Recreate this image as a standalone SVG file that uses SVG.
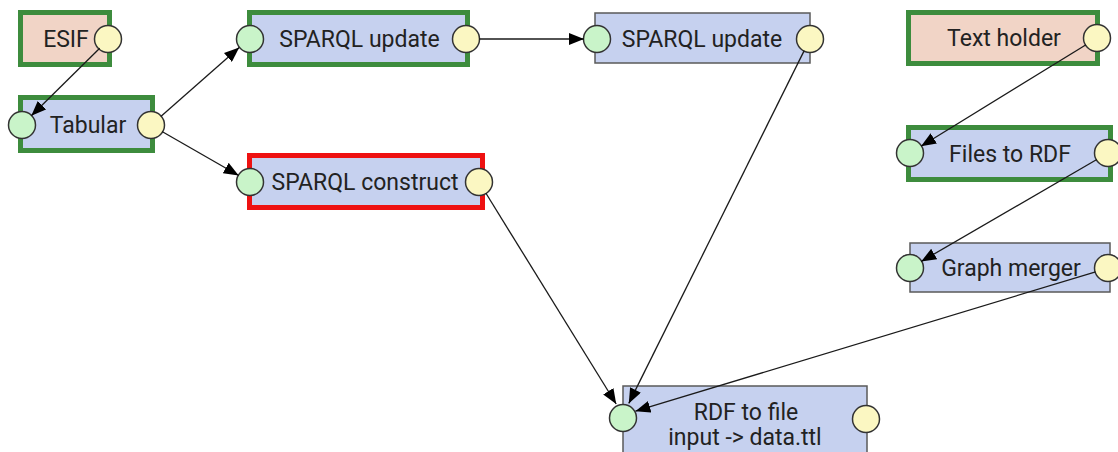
<svg xmlns="http://www.w3.org/2000/svg" width="1118" height="452" viewBox="0 0 1118 452">
<style>
.box{fill:#c6d1ef}
.src{fill:#f1d4c6}
.gb{stroke:#3d8c3d;stroke-width:5}
.rb{stroke:#ee1111;stroke-width:5}
.tb{stroke:#5a5a5a;stroke-width:1.5}
.in{fill:#c9f4c9;stroke:#333;stroke-width:1.5}
.out{fill:#fbf7c2;stroke:#333;stroke-width:1.5}
text{font-family:Roboto,"Liberation Sans",sans-serif;font-size:23px;fill:#222;text-anchor:middle}
.e{stroke:#1a1a1a;stroke-width:1.3;fill:none;marker-end:url(#ah)}
</style>
<defs>
<marker id="ah" markerUnits="userSpaceOnUse" markerWidth="16" markerHeight="12" refX="15" refY="6" orient="auto">
<path d="M0,0 L15,6 L0,12 Z" fill="#000"/>
</marker>
</defs>
<rect width="1118" height="452" fill="#fff"/>
<g id="esif">
<rect class="src gb" x="20.5" y="12.5" width="89" height="52"/>
<text x="66" y="47">ESIF</text>
<circle class="out" cx="108" cy="39" r="13.5"/>
</g>
<g id="tabular">
<rect class="box gb" x="20.5" y="97.5" width="132" height="53"/>
<text x="88" y="133">Tabular</text>
<circle class="in" cx="22" cy="125" r="13.5"/>
<circle class="out" cx="151" cy="125" r="13.5"/>
</g>
<g id="sparql-update-1">
<rect class="box gb" x="249.5" y="12.5" width="218" height="52"/>
<text x="359.5" y="47">SPARQL update</text>
<circle class="in" cx="250" cy="39" r="13.5"/>
<circle class="out" cx="466" cy="39" r="13.5"/>
</g>
<g id="sparql-update-2">
<rect class="box tb" x="595" y="13" width="215" height="50"/>
<text x="702" y="47">SPARQL update</text>
<circle class="in" cx="597" cy="39" r="13.5"/>
<circle class="out" cx="810" cy="39" r="13.5"/>
</g>
<g id="sparql-construct">
<rect class="box rb" x="249.5" y="155.5" width="233" height="52"/>
<text x="365" y="190">SPARQL construct</text>
<circle class="in" cx="250" cy="182" r="13.5"/>
<circle class="out" cx="479" cy="182" r="13.5"/>
</g>
<g id="text-holder">
<rect class="src gb" x="908.5" y="12.5" width="189" height="51"/>
<text x="1004" y="46">Text holder</text>
<circle class="out" cx="1097" cy="38" r="13.5"/>
</g>
<g id="files-to-rdf">
<rect class="box gb" x="908.5" y="127.5" width="202" height="52"/>
<text x="1010" y="162">Files to RDF</text>
<circle class="in" cx="910" cy="153" r="13.5"/>
<circle class="out" cx="1108" cy="153" r="13.5"/>
</g>
<g id="graph-merger">
<rect class="box tb" x="910" y="243" width="200" height="49"/>
<text x="1011" y="276">Graph merger</text>
<circle class="in" cx="910" cy="268" r="13.5"/>
<circle class="out" cx="1108" cy="268" r="13.5"/>
</g>
<g id="rdf-to-file">
<rect class="box tb" x="623" y="386" width="244" height="80"/>
<text x="746" y="420">RDF to file</text>
<text x="745" y="445">input -&gt; data.ttl</text>
<circle class="in" cx="623" cy="418" r="13.5"/>
<circle class="out" cx="866" cy="419" r="13.5"/>
</g>
<g id="connectors">
<line class="e" x1="99.7" y1="48.2" x2="31.3" y2="115.8"/>
<line class="e" x1="160.8" y1="116.4" x2="239.2" y2="47.6"/>
<line class="e" x1="162" y1="131.5" x2="238.7" y2="175.5"/>
<line class="e" x1="479" y1="39" x2="584" y2="39"/>
<line class="e" x1="804.2" y1="50.6" x2="628.8" y2="403.4"/>
<line class="e" x1="485.8" y1="193" x2="616.2" y2="404"/>
<line class="e" x1="1095.6" y1="271.8" x2="635.4" y2="411.2"/>
<line class="e" x1="1086" y1="44.8" x2="921" y2="146.2"/>
<line class="e" x1="1096.8" y1="159.5" x2="921.2" y2="261.5"/>
</g>
</svg>
